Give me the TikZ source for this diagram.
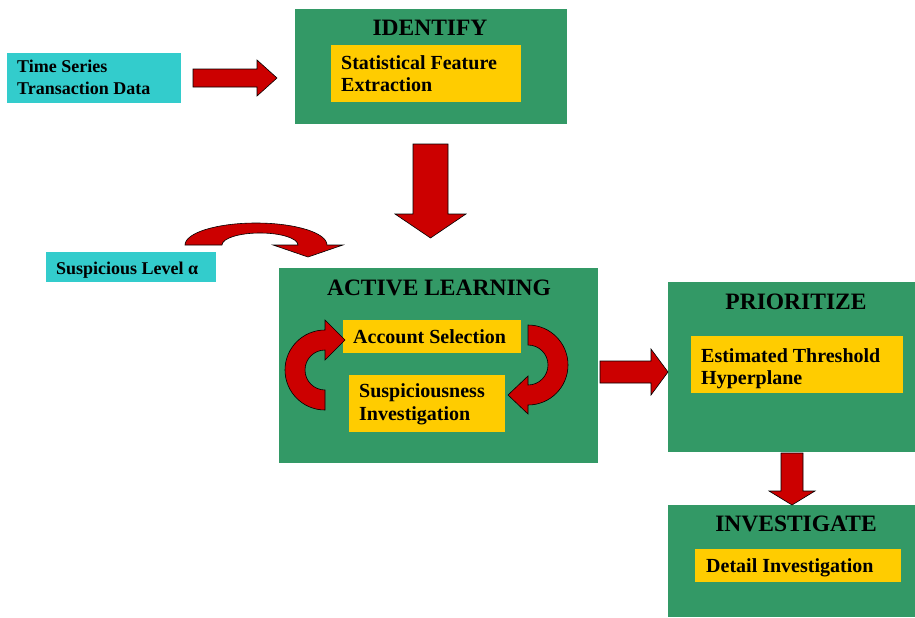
\documentclass[tikz,border=0pt]{standalone}
\usepackage{fontspec}
\setmainfont{Liberation Serif}
\definecolor{boxgreen}{HTML}{339966}
\definecolor{boxyellow}{HTML}{FFCC00}
\definecolor{boxcyan}{HTML}{33CCCC}
\definecolor{arrowred}{HTML}{CC0000}
\tikzset{
  stage/.style={fill=boxgreen, draw=none, inner sep=0pt},
  title/.style={font=\fontsize{23.5}{26}\selectfont\bfseries, inner sep=0pt, anchor=base},
  ybox/.style={fill=boxyellow, draw=none, inner sep=0pt},
  cbox/.style={fill=boxcyan, draw=none, inner sep=0pt},
  ytext/.style={font=\fontsize{20}{22}\selectfont\bfseries, inner sep=0pt, anchor=base west},
  ctext/.style={font=\fontsize{18}{22}\selectfont\bfseries, inner sep=0pt, anchor=base west},
  blockarrow/.style={fill=arrowred, draw=black, line width=0.6pt, line join=miter},
}
\begin{document}
\begin{tikzpicture}[x=1pt,y=-1pt]
\useasboundingbox (0,0) rectangle (915,618);

% stages
\node[stage, minimum width=272pt, minimum height=115pt] (identify) at (431,66.5) {};
\node[title] (identifyT) at (430,36) {IDENTIFY};
\node[stage, minimum width=319pt, minimum height=195pt] (active) at (438.5,365.5) {};
\node[title] (activeT) at (439,295) {ACTIVE LEARNING};
\node[stage, minimum width=247pt, minimum height=170pt] (prior) at (791.5,367) {};
\node[title] (priorT) at (796,309) {PRIORITIZE};
\node[stage, minimum width=247pt, minimum height=112pt] (invest) at (791.5,561) {};
\node[title] (investT) at (796,531) {INVESTIGATE};

% inputs
\node[cbox, minimum width=174pt, minimum height=50pt] (tsd) at (94,78) {};
\node[ctext] (tsd1) at (17,73) {Time Series};
\node[ctext] (tsd2) at (17,94.5) {Transaction Data};
\node[cbox, minimum width=170pt, minimum height=30pt] (sus) at (131,267) {};
\node[ctext] (sus1) at (56,274) {Suspicious Level α};

% yellow boxes
\node[ybox, minimum width=190pt, minimum height=57pt] (sfe) at (426,73.5) {};
\node[ytext] (sfe1) at (341,69.5) {Statistical Feature};
\node[ytext] (sfe2) at (341,92) {Extraction};
\node[ybox, minimum width=178pt, minimum height=33pt] (acc) at (432,336.5) {};
\node[ytext] (acc1) at (353,343) {Account Selection};
\node[ybox, minimum width=156pt, minimum height=57pt] (si) at (427,403.5) {};
\node[ytext] (si1) at (359,397) {Suspiciousness};
\node[ytext] (si2) at (359,420) {Investigation};
\node[ybox, minimum width=212pt, minimum height=57pt] (eth) at (797,364.5) {};
\node[ytext] (eth1) at (701,362) {Estimated Threshold};
\node[ytext] (eth2) at (701,384) {Hyperplane};
\node[ybox, minimum width=206pt, minimum height=33pt] (di) at (798,565.5) {};
\node[ytext] (di1) at (706,572) {Detail Investigation};

% straight block arrows
\draw[blockarrow] (193,69)--(257,69)--(257,60)--(277,78)--(257,96)--(257,87)--(193,87)--cycle;
\draw[blockarrow] (600,361)--(651,361)--(651,349)--(668,372)--(651,395)--(651,383)--(600,383)--cycle;
\draw[blockarrow] (413,144)--(448,144)--(448,214)--(466,214)--(430.5,238)--(395,214)--(413,214)--cycle;
\draw[blockarrow] (781,453)--(803,453)--(803,491)--(815,491)--(792,505)--(769,491)--(781,491)--cycle;

% curved arrow from suspicious level
\draw[blockarrow] (185,245) arc[start angle=180, end angle=360, x radius=71, y radius=22]
  -- (343,245) -- (308,257) -- (273,245) -- (298,245)
  arc[start angle=360, end angle=180, x radius=38, y radius=12] -- cycle;

% left loop arrow
\draw[blockarrow] (325,330) arc[start angle=270, end angle=90, radius=40]
  -- (325,390) arc[start angle=90, end angle=270, radius=20]
  -- (325,360) -- (345,340) -- (325,320) -- cycle;

% right loop arrow
\draw[blockarrow] (528,325) arc[start angle=-90, end angle=90, radius=40]
  -- (528,414) -- (508,395) -- (528,376) -- (528,385)
  arc[start angle=90, end angle=-90, radius=20] -- cycle;
\end{tikzpicture}
\end{document}
